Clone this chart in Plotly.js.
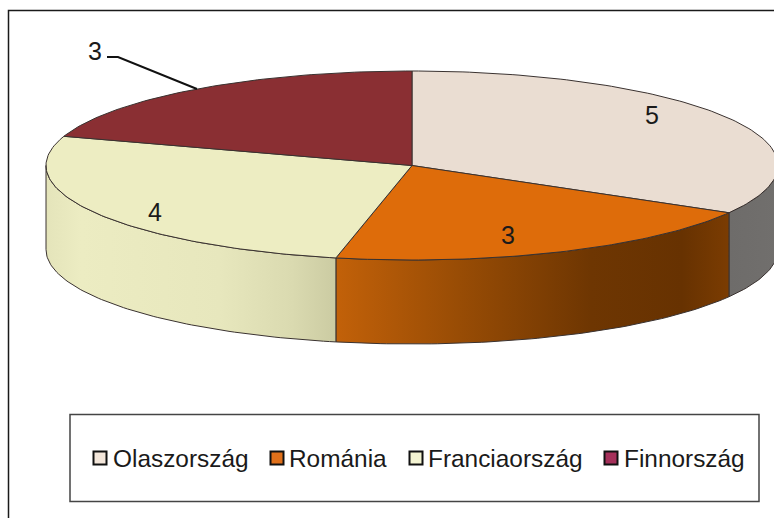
<!DOCTYPE html>
<html>
<head>
<meta charset="utf-8">
<script src="https://cdn.plot.ly/plotly-3.0.1.min.js"></script>
<style>html,body{margin:0;padding:0;background:#fff}#chart{width:774px;height:518px}</style>
</head>
<body>
<div id="chart"></div>
<script>
// Data
const categories = ['Olaszország', 'Románia', 'Franciaország', 'Finnország'];
const values = [5, 3, 4, 3];

// Styles
const topColors = ['#EADDD2', '#DE6C0A', '#EDEDC2', '#8A2F33'];
const legendColors = ['#F3E6DA', '#E0701A', '#F4F4D2', '#A5305A'];
const wallScales = [
  [[0, '#6E6C6A'], [1, '#716F6D']],
  [[0, '#C26109'], [0.3, '#9A4D05'], [0.65, '#6E3602'], [0.88, '#673201'], [1, '#7B3C02']],
  [[0, '#E4E4BA'], [0.12, '#ECECC2'], [0.6, '#E7E7BD'], [0.85, '#DADAB0'], [1, '#CBCBA2']],
  [[0, '#6E2528'], [1, '#6E2528']]
];

// Geometry of the drawing (pixels, as the axes run 1:1 with the page)
const cx = 412, cy = 165.5, rx = 366, ry = 94.5, depth = 84;
const edge = '#3A3230';
const font = 'Liberation Sans, Arial, sans-serif';

const rad = d => d * Math.PI / 180;
const px = a => cx + rx * Math.sin(rad(a));
const py = (a, dz) => cy - ry * Math.cos(rad(a)) + (dz || 0);
function arc(a0, a1, dz) {
  const n = Math.max(2, Math.ceil(Math.abs(a1 - a0)));
  const xs = [], ys = [];
  for (let i = 0; i <= n; i++) {
    const a = a0 + (a1 - a0) * i / n;
    xs.push(px(a)); ys.push(py(a, dz));
  }
  return [xs, ys];
}

const total = values.reduce((s, v) => s + v, 0);
const traces = [];
let start = 0;
const spans = values.map(v => { const s = [start, start + v / total * 360]; start = s[1]; return s; });

// side walls: only the front half of the disc (90..270 degrees) is visible
spans.forEach((s, i) => {
  const a0 = Math.max(s[0], 90), a1 = Math.min(s[1], 270);
  if (a1 <= a0) return;
  const [tx, ty] = arc(a0, a1, 0);
  const [bx, by] = arc(a1, a0, depth);
  traces.push({
    type: 'scatter', mode: 'lines', name: categories[i] + ' oldal', showlegend: false, hoverinfo: 'skip',
    x: tx.concat(bx, [tx[0]]), y: ty.concat(by, [ty[0]]),
    fill: 'toself',
    fillgradient: {type: 'horizontal', colorscale: wallScales[i]},
    line: {color: edge, width: 1}
  });
});

// top faces
spans.forEach((s, i) => {
  const [tx, ty] = arc(s[0], s[1], 0);
  traces.push({
    type: 'scatter', mode: 'lines', name: categories[i], showlegend: false,
    x: [cx].concat(tx, [cx]), y: [cy].concat(ty, [cy]),
    fill: 'toself', fillcolor: topColors[i],
    line: {color: edge, width: 1},
    text: categories[i] + ': ' + values[i], hoverinfo: 'text'
  });
});

// leader line of the last label
traces.push({
  type: 'scatter', mode: 'lines', showlegend: false, hoverinfo: 'skip',
  x: [107, 118, 197], y: [57, 57, 89],
  line: {color: '#111', width: 2}
});

// legend
const legendSwatchX = [100, 277, 416, 611];
const legendTextX = [113, 289, 428, 624];
const legendY = 458;
traces.push({
  type: 'scatter', mode: 'markers', showlegend: false, hoverinfo: 'skip',
  x: legendSwatchX, y: categories.map(() => legendY),
  marker: {symbol: 'square', size: 13, color: legendColors, line: {color: '#111', width: 2}}
});

const labelPos = [[652, 115], [508, 235], [155, 212], [95, 51]];
const annotations = values.map((v, i) => ({
  x: labelPos[i][0], y: labelPos[i][1], xref: 'x', yref: 'y',
  text: String(v), showarrow: false, xanchor: 'center', yanchor: 'middle',
  font: {family: font, size: 25, color: '#1A1A1A'}
})).concat(categories.map((c, i) => ({
  x: legendTextX[i], y: legendY, xref: 'x', yref: 'y',
  text: c, showarrow: false, xanchor: 'left', yanchor: 'middle', xshift: -2,
  font: {family: font, size: 24.4, color: '#1A1A1A'}
})));

const layout = {
  width: 774, height: 518,
  margin: {l: 0, r: 0, t: 0, b: 0},
  paper_bgcolor: '#fff', plot_bgcolor: '#fff',
  showlegend: false,
  xaxis: {range: [0, 774], visible: false, fixedrange: true},
  yaxis: {range: [518, 0], visible: false, fixedrange: true},
  annotations,
  shapes: [
    {type: 'path', path: 'M8.5,518 L8.5,10.5 L774,10.5', xref: 'x', yref: 'y', line: {color: '#1A1A1A', width: 1.5}, layer: 'below'},
    {type: 'rect', x0: 70, x1: 759, y0: 414.5, y1: 501.5, xref: 'x', yref: 'y', line: {color: '#444', width: 1.5}, fillcolor: 'rgba(0,0,0,0)', layer: 'below'}
  ]
};
Plotly.newPlot('chart', traces, layout, {displayModeBar: false});
</script>
</body>
</html>
